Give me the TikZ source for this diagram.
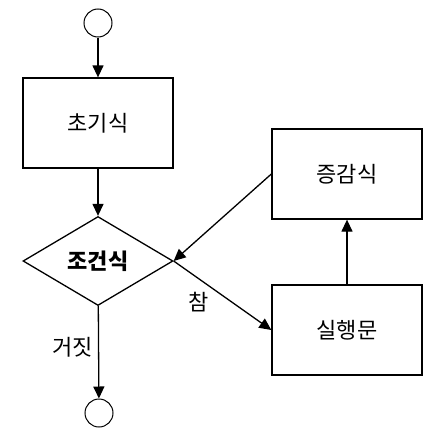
\documentclass[tikz,border=0pt]{standalone}
\usepackage{fontspec}
\setmainfont{Noto Sans CJK KR}
\usetikzlibrary{arrows.meta,shapes.geometric}

\begin{document}
\begin{tikzpicture}[x=1pt,y=-1pt,line width=1.3pt,>={Triangle[length=12pt,width=11pt]},
  box/.style={draw,rectangle,minimum width=150pt,minimum height=90pt,font=\fontsize{22}{26}\selectfont},
  cond/.style={draw,diamond,aspect=1.68,minimum width=150pt,minimum height=89pt,inner sep=0pt,font=\fontsize{22}{26}\selectfont\bfseries},
  term/.style={draw,circle,minimum size=28pt,inner sep=0pt,line width=1pt},
  lbl/.style={font=\fontsize{22}{26}\selectfont}]
\useasboundingbox (0,0) rectangle (444,447);
% start / end
\node[term] (start) at (98,23) {};
\node[term] (stop) at (99,413) {};
% boxes
\node[box] (init) at (98,123) {초기식};
\node[cond] (test) at (98,261) {조건식};
\node[box] (incr) at (347,174) {증감식};
\node[box] (body) at (347,330) {실행문};
% arrows
\draw[->] (start) -- (init);
\draw[->] (init) -- (test);
\draw[->] (test) -- node[lbl,pos=0.45,left=2pt]{거짓} (stop);
\draw[->] (test.east) -- node[lbl,pos=0.4,below left=0pt]{참} (body.west);
\draw[->] (body) -- (incr);
\draw[->] (incr.west) -- (test.east);
\end{tikzpicture}
\end{document}
